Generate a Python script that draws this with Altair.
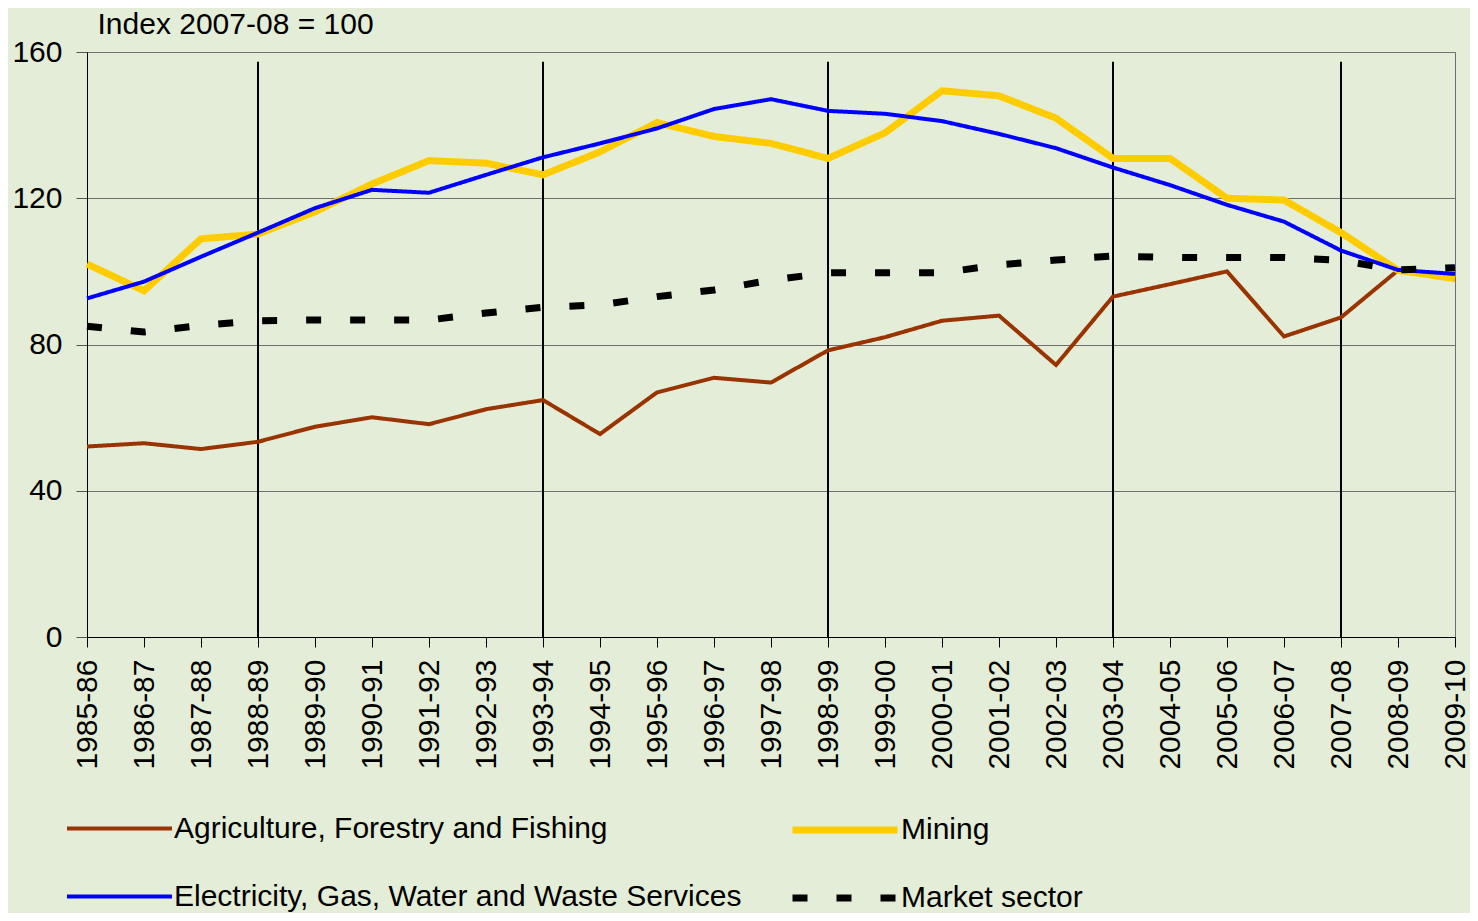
import altair as alt
import pandas as pd

years = ["1985-86", "1986-87", "1987-88", "1988-89", "1989-90", "1990-91", "1991-92",
         "1992-93", "1993-94", "1994-95", "1995-96", "1996-97", "1997-98", "1998-99",
         "1999-00", "2000-01", "2001-02", "2002-03", "2003-04", "2004-05", "2005-06",
         "2006-07", "2007-08", "2008-09", "2009-10"]

agriculture = [52.1, 53.0, 51.4, 53.4, 57.5, 60.1, 58.2, 62.3, 64.8, 55.5, 66.9, 70.9, 69.6,
               78.4, 82.0, 86.5, 87.9, 74.4, 93.1, 96.5, 100.0, 82.2, 87.4, 100.3, 97.8]
mining = [102.0, 94.7, 108.9, 110.2, 116.3, 123.9, 130.3, 129.6, 126.4, 132.7, 140.7, 136.9,
          135.0, 130.9, 137.9, 149.4, 148.0, 141.9, 130.9, 130.9, 120.0, 119.5, 110.6, 100.3, 98.0]
electricity = [92.6, 97.2, 104.0, 110.6, 117.3, 122.3, 121.5, 126.4, 131.2, 135.0, 139.1, 144.4,
               147.1, 143.9, 143.1, 141.1, 137.6, 133.7, 128.4, 123.6, 118.2, 113.6, 105.7, 100.4, 99.3]
market = [85.0, 83.4, 85.2, 86.5, 86.7, 86.7, 86.7, 88.6, 90.2, 90.8, 93.1, 94.9, 97.6, 99.6,
          99.6, 99.6, 101.8, 103.1, 104.2, 103.8, 103.8, 103.8, 103.0, 100.4, 101.0]

series_names = ["Agriculture, Forestry and Fishing", "Mining",
                "Electricity, Gas, Water and Waste Services", "Market sector"]
series_values = [agriculture, mining, electricity, market]
series_colors = ["#993300", "#FFCC00", "#0000FF", "#000000"]
series_widths = [4, 7, 4, 7]
series_dashes = [[1, 0], [1, 0], [1, 0], [15, 29]]

# legend grid: 2 columns x 2 rows
legend_cols_x = [-22, 702]
legend_rows_y = [722, 790]

marker_years = ["1988-89", "1993-94", "1998-99", "2003-04", "2007-08"]
marker_top = 157.3

y_ticks = [0, 40, 80, 120, 160]

FONT = "Liberation Sans"

markers = pd.DataFrame({"year": marker_years, "lo": [0] * len(marker_years),
                        "hi": [marker_top] * len(marker_years)})

x_enc = alt.X("year:O", sort=years, scale=alt.Scale(type="point", padding=0, domain=years),
              axis=alt.Axis(title=None, labelAngle=270, labelFontSize=30, labelFont=FONT,
                            labelColor="black", tickSize=10, tickColor="black",
                            domainColor="black", labelPadding=12, labelOverlap=False))

y_scale = alt.Scale(domain=[0, 160], nice=False)
y_axis = alt.Axis(values=y_ticks, title="Index 2007-08 = 100", titleAngle=0,
                  titleAlign="left", titleBaseline="alphabetic", titleX=10, titleY=-19,
                  titleFontSize=30, titleFont=FONT, titleFontWeight="normal",
                  titleColor="black",
                  labelFontSize=30, labelFont=FONT, labelColor="black",
                  tickSize=11, tickColor="#555555", domainColor="black",
                  labelPadding=14, gridColor="#707070", gridWidth=1)

rules = alt.Chart(markers).mark_rule(color="black", strokeWidth=2).encode(
    x=x_enc,
    y=alt.Y("lo:Q", scale=y_scale, axis=y_axis),
    y2="hi:Q",
)

layers = [rules]
for k, (name, vals, col, w, d) in enumerate(zip(series_names, series_values, series_colors,
                                                 series_widths, series_dashes)):
    sdf = pd.DataFrame({"series": [name] * len(years), "year": years,
                        "idx": list(range(len(years))), "value": vals})
    leg = alt.Legend(orient="none", legendX=legend_cols_x[k % 2], legendY=legend_rows_y[k // 2],
                     symbolType="stroke", symbolSize=11025, symbolStrokeWidth=w,
                     symbolDash=d, labelFontSize=30, labelFont=FONT, labelColor="black",
                     labelLimit=1000, labelOffset=0, padding=0)
    layers.append(
        alt.Chart(sdf).mark_line(strokeWidth=w, strokeDash=d, strokeCap="butt",
                                 strokeJoin="miter").encode(
            x=x_enc,
            y=alt.Y("value:Q", scale=y_scale, axis=y_axis),
            color=alt.Color("series:N", title=None,
                            scale=alt.Scale(domain=[name], range=[col]), legend=leg),
            order="idx:Q",
        )
    )

chart = alt.layer(*layers).resolve_scale(color="independent").resolve_legend(
    color="independent"
).properties(
    width=1368, height=585,
    autosize=alt.AutoSizeParams(type="none"),
    padding={"left": 79, "top": 44, "right": 15, "bottom": 276},
    background="#E4EDD7",
).configure_view(stroke="#6e6e6e", strokeWidth=1)

chart.save("out.html", embed_options={"renderer": "svg", "actions": False})
